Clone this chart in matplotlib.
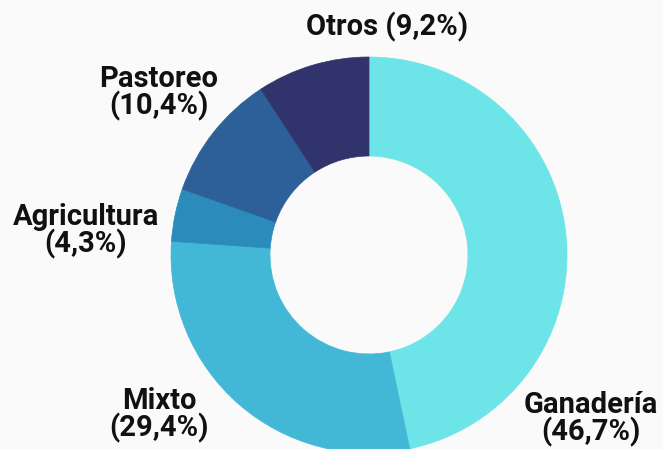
import matplotlib.pyplot as plt

categorias = ["Ganadería", "Mixto", "Agricultura", "Pastoreo", "Otros"]
porcentajes = [46.7, 29.4, 4.3, 10.4, 9.2]
colores = ["#6ce4e8", "#43b7d6", "#2b8bbb", "#2d5f98", "#31346c"]

# posiciones de las etiquetas (unidades del radio del anillo)
pos_etiquetas = [(1.12, -0.83), (-1.06, -0.81), (-1.43, 0.12), (-1.06, 0.82), (0.09, 1.15)]

fig = plt.figure(figsize=(6.63, 4.49), dpi=100)
fig.patch.set_facecolor("#fafafa")
ax = fig.add_axes([0, 0, 1, 1])
ax.set_facecolor("#fafafa")

wedges, _ = ax.pie(porcentajes, colors=colores, startangle=90, counterclock=False,
                   radius=1, wedgeprops=dict(width=0.5, edgecolor="none"))
for w in wedges:
    w.set_edgecolor(w.get_facecolor())
    w.set_linewidth(0.5)

for cat, p, (x, y) in zip(categorias, porcentajes, pos_etiquetas):
    txt = f"{p:.1f}".replace(".", ",")
    if cat == "Otros":
        s = f"{cat} ({txt}%)"
    else:
        s = f"{cat}\n({txt}%)"
    ax.text(x, y, s, ha="center", va="center", fontsize=21, fontweight="bold",
            family="Roboto", color="#111111", linespacing=0.92)

ax.set_xlim(-369 / 198, (663 - 369) / 198)
ax.set_ylim(-(449 - 255) / 198, 255 / 198)
ax.set_aspect("equal")
ax.axis("off")

fig.savefig("out.png", dpi=100, facecolor=fig.get_facecolor())
